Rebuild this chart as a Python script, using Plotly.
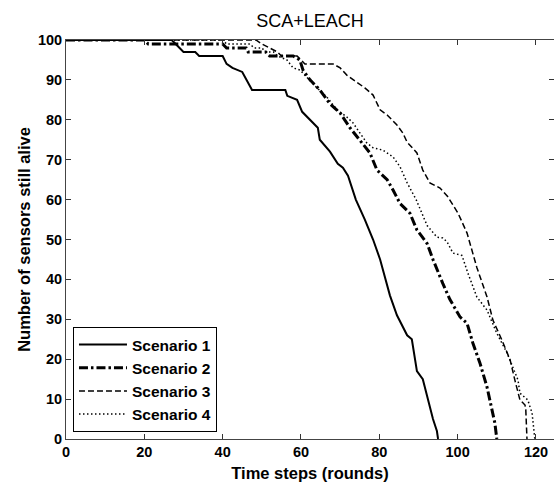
import plotly.graph_objects as go

# Scenario 1 (solid)
s1_t = [0, 27, 28, 30, 33, 34, 40, 41, 42.5, 45, 47.5, 56, 56.5, 59, 60.3, 62.3, 64.3, 64.8, 67.4, 69.4,
        70.7, 72, 74, 76.3, 78.4, 80.2, 82.7, 84.5, 87.1, 88.3, 89.6, 91.1, 92.4, 93.7, 94.7, 95]
s1_v = [100, 100, 99, 97, 97, 96, 96, 94, 93, 92, 87.5, 87.5, 86, 85, 82, 80, 78, 75, 72, 69,
        68, 66, 60, 55, 50, 45, 36, 31, 26, 25, 17, 15, 10, 5, 2, 0]

# Scenario 2 (dash-dot)
s2_t = [0, 20, 21, 40, 41, 46, 46.5, 51, 52, 58, 59.7, 60.5, 62.3, 64.8, 67.4, 70, 72.5, 75.8, 77.6, 79.4,
        82, 83.5, 85.3, 87.8, 89.6, 92.2, 93.7, 96.2, 98, 100.6, 102.4, 103.9, 105.7, 107.5, 109, 109.5, 110]
s2_v = [100, 100, 99, 99, 98, 98, 97, 97, 96, 96, 95, 92.5, 90, 87.5, 84, 81.7, 78, 74, 71.7, 67.4,
        65, 62.4, 59, 56.6, 52.4, 49, 45, 39, 35, 30.6, 29, 24, 19, 13, 6.5, 4, 0]

# Scenario 3 (dashed)
s3_t = [0, 48.5, 50, 52, 54, 55, 59, 60, 61, 68.2, 70, 71.7, 74.3, 76.3, 78.4, 80.2, 82, 84.5, 86, 87.1,
        89.6, 91.1, 92.9, 95.5, 97.5, 100.1, 102.4, 104.9, 107.5, 109, 111.3, 113.4, 114.6, 115.9, 117.2,
        117.4, 117.7]
s3_v = [100, 100, 99, 98, 97, 96, 96, 95, 94, 94, 93, 91.2, 89.5, 88, 86.2, 82.5, 81.2, 78.7, 76.7, 74.4,
        71.7, 67.4, 64.2, 62.9, 60.7, 56.6, 51.6, 43, 35.6, 29.8, 24.8, 19.8, 14.8, 9.8, 8.5, 7.3, 0]

# Scenario 4 (dotted)
s4_t = [0, 40, 41, 47, 48, 50, 51, 53, 54, 56.4, 58, 59.7, 64.1, 66.6, 69.2, 71.7, 73.3, 76.8, 78.4, 80.9,
        83.5, 85.3, 87.1, 89.4, 92.2, 94.7, 96.2, 97.3, 98.8, 101.1, 102.6, 104.9, 107.5, 110, 112.6, 114.1,
        115.4, 115.9, 117.9, 119, 119.7]
s4_v = [100, 100, 99, 99, 98, 98, 97, 97, 96, 95, 93, 92.5, 88, 85.7, 82.5, 80.7, 79.2, 74.2, 73, 72.4,
        70.7, 68.2, 64.2, 60, 53.5, 50.6, 50.4, 49.4, 46.6, 46, 41.6, 35.6, 32.3, 26.5, 21.6, 18,
        14.8, 11.5, 9.8, 6.5, 0]

names = ["Scenario 1", "Scenario 2", "Scenario 3", "Scenario 4"]
x_ticks = [0, 20, 40, 60, 80, 100, 120]
y_ticks = [0, 10, 20, 30, 40, 50, 60, 70, 80, 90, 100]

FONT = "Liberation Sans, Arial, Helvetica, sans-serif"

fig = go.Figure()
styles = [
    dict(color="black", width=2, dash="solid"),
    dict(color="black", width=3, dash="9px,3px,2.5px,3px"),
    dict(color="black", width=1.5, dash="6px,3px"),
    dict(color="black", width=1.5, dash="1.5px,2.5px"),
]
for (t, v), name, st in zip([(s1_t, s1_v), (s2_t, s2_v), (s3_t, s3_v), (s4_t, s4_v)], names, styles):
    fig.add_trace(go.Scatter(x=t, y=v, mode="lines", name=name, line=st))

# invisible trace for right-side ticks
fig.add_trace(go.Scatter(x=[None], y=[None], yaxis="y2", showlegend=False, hoverinfo="skip"))

fig.update_layout(
    width=554, height=482,
    margin=dict(l=66, r=0, t=40, b=43),
    paper_bgcolor="white", plot_bgcolor="white",
    font=dict(family=FONT, color="black"),
    title=dict(text="SCA+LEACH", x=0.5, xref="paper", xanchor="center", y=1 - 21 / 482, yanchor="middle",
               font=dict(size=18, family=FONT, color="black")),
    showlegend=True,
    legend=dict(x=0.0143, y=0.0175, xanchor="left", yanchor="bottom",
                bordercolor="black", borderwidth=1, bgcolor="white",
                font=dict(size=15.5, family=FONT, color="black", weight="bold"),
                itemwidth=48, tracegroupgap=0),
    xaxis=dict(range=[0, 124.6], tickvals=x_ticks, ticks="inside", ticklen=5, tickcolor="#333",
               showline=True, linecolor="#444", linewidth=1, mirror="ticks", showgrid=False, zeroline=False,
               tickfont=dict(size=14.5, family=FONT, color="black", weight="bold"),
               title=dict(text="Time steps (rounds)", standoff=9,
                          font=dict(size=16.5, family=FONT, color="black", weight="bold"))),
    yaxis=dict(range=[0, 100], tickvals=y_ticks, ticks="inside", ticklen=5, tickcolor="#333",
               showline=True, linecolor="#444", linewidth=1, showgrid=False, zeroline=False,
               tickfont=dict(size=14.5, family=FONT, color="black", weight="bold"),
               title=dict(text="Number of sensors still alive", standoff=3,
                          font=dict(size=16.5, family=FONT, color="black", weight="bold"))),
    yaxis2=dict(range=[0, 100], tickvals=y_ticks, ticks="inside", ticklen=5, tickcolor="#333",
                overlaying="y", side="right", anchor="x", showline=False, showgrid=False,
                zeroline=False, showticklabels=False),
)

fig.write_html("out.html")
